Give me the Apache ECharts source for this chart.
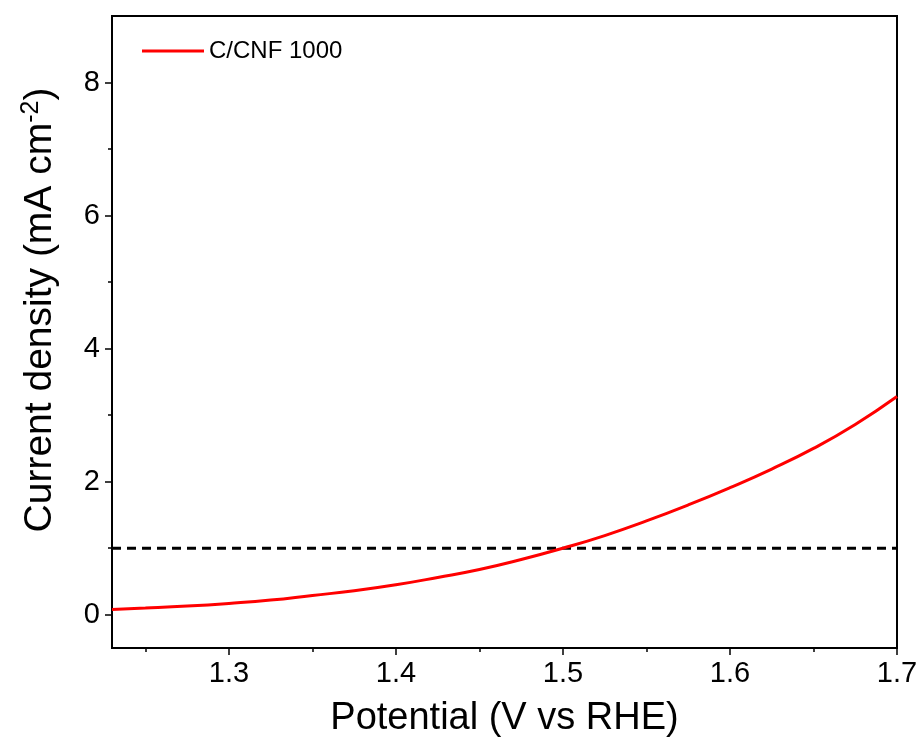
<!DOCTYPE html>
<html>
<head>
<meta charset="utf-8">
<script src="https://cdn.jsdelivr.net/npm/echarts@6/dist/echarts.min.js"></script>
<style>html,body{margin:0;padding:0;background:#fff;}#c{width:924px;height:749px;}</style>
</head>
<body>
<div id="c"></div>
<script>
var potential = [1.23, 1.25, 1.275, 1.30, 1.325, 1.35, 1.375, 1.40, 1.425, 1.45, 1.475, 1.50, 1.525, 1.55, 1.575, 1.60, 1.625, 1.65, 1.675, 1.70];
var current   = [0.08, 0.10, 0.13, 0.17, 0.22, 0.29, 0.36, 0.45, 0.56, 0.68, 0.83, 1.00, 1.19, 1.41, 1.65, 1.91, 2.19, 2.50, 2.86, 3.28];
var refLevel = 1;
var seriesName = 'C/CNF 1000';
var xMajor = [1.3, 1.4, 1.5, 1.6, 1.7];
var xMinor = [1.25, 1.35, 1.45, 1.55, 1.65];
var yMajor = [0, 2, 4, 6, 8];
var yMinor = [1, 3, 5, 7];

var font = 'Liberation Sans, Arial, sans-serif';
var chart = echarts.init(document.getElementById('c'));
var curve = potential.map(function(p, i){ return [p, current[i]]; });
var ref = [[potential[0], refLevel], [potential[potential.length-1], refLevel]];

function xAx(custom, len, labels, name) {
  return {
    type: 'value', min: 1.23, max: 1.7, position: 'bottom',
    name: name || '', nameLocation: 'middle', nameGap: 52,
    nameTextStyle: {fontFamily: font, fontSize: 38, color: '#000'},
    axisLine: {show: !!labels, onZero: false, lineStyle: {color: '#000', width: 2}},
    axisTick: {show: true, inside: false, length: len, customValues: custom, lineStyle: {color: '#000', width: 1.5}},
    axisLabel: {show: !!labels, customValues: custom, margin: 11, fontFamily: font, fontSize: 29, color: '#000',
      formatter: function(v){ return v.toFixed(1); }},
    splitLine: {show: false}
  };
}
function yAx(custom, len, labels, name) {
  return {
    type: 'value', min: -0.5, max: 9, position: 'left',
    name: name || '', nameLocation: 'middle', nameGap: 50, nameRotate: 90,
    nameTextStyle: {fontFamily: font, fontSize: 39, color: '#000', padding: [0, 0, 0, 44],
      rich: {sup: {fontFamily: font, fontSize: 25, color: '#000', verticalAlign: 'top', padding: [0,0,18,0]}}},
    axisLine: {show: !!labels, onZero: false, lineStyle: {color: '#000', width: 2}},
    axisTick: {show: true, inside: false, length: len, customValues: custom, lineStyle: {color: '#000', width: 1.5}},
    axisLabel: {show: !!labels, customValues: custom, margin: 12, fontFamily: font, fontSize: 29, color: '#000'},
    splitLine: {show: false}
  };
}

chart.setOption({
  backgroundColor: '#fff',
  animation: false,
  grid: {left: 112, right: 27, top: 16, bottom: 101, show: true, borderColor: '#000', borderWidth: 2, backgroundColor: 'transparent'},
  legend: {
    show: true, left: 137, top: 34, itemWidth: 62, itemHeight: 14, itemGap: 6,
    data: [{name: seriesName, icon: 'path://M0,5.5 L62,5.5 L62,8.5 L0,8.5 Z'}],
    textStyle: {fontFamily: font, fontSize: 24, color: '#000'}
  },
  xAxis: [xAx(xMajor, 7, true, 'Potential (V vs RHE)'), xAx(xMinor, 4, false)],
  yAxis: [yAx(yMajor, 7, true, 'Current density (mA cm{sup|-2})'), yAx(yMinor, 4, false)],
  series: [
    {name: 'ref', type: 'line', data: ref, symbol: 'none', silent: true,
     lineStyle: {color: '#000', width: 3, type: [9, 6]}, z: 2},
    {name: seriesName, type: 'line', data: curve, symbol: 'none', smooth: true,
     lineStyle: {color: '#ff0000', width: 3}, itemStyle: {color: '#ff0000'}, z: 3}
  ]
});
</script>
</body>
</html>
